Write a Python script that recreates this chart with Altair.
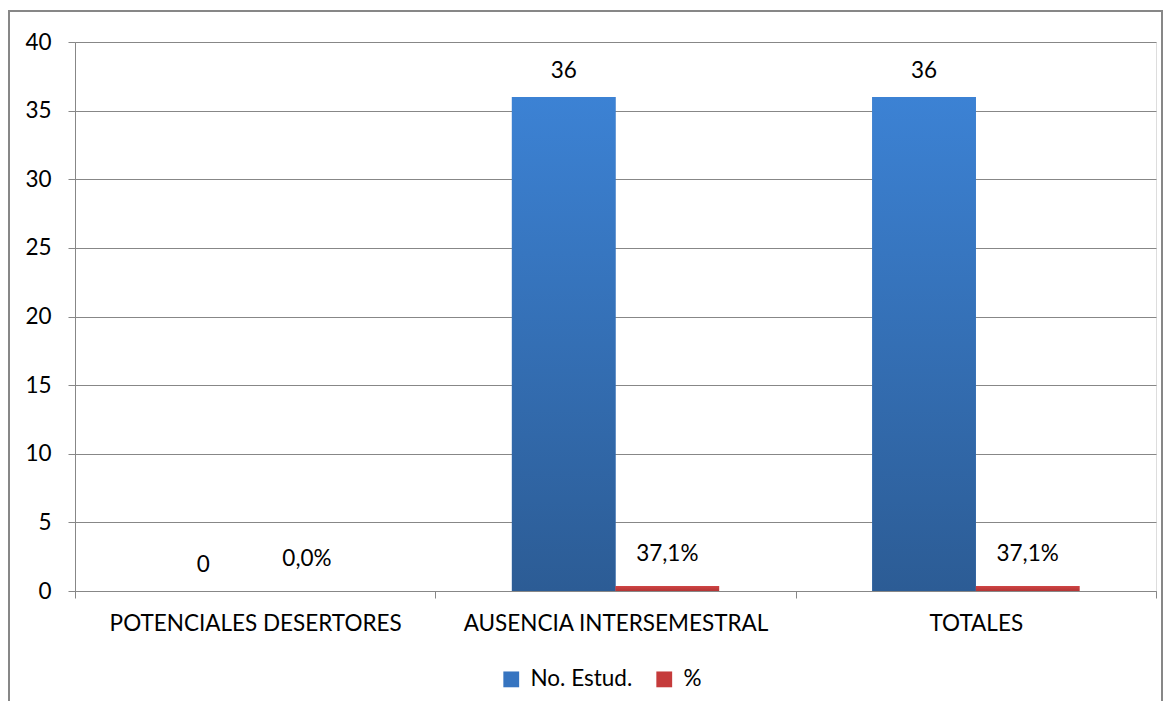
import altair as alt
import pandas as pd

categories = ["POTENCIALES DESERTORES", "AUSENCIA INTERSEMESTRAL", "TOTALES"]
series = ["No. Estud.", "%"]
estud = [0, 36, 36]
estud_labels = ["0", "36", "36"]
pct = [0.0, 37.1, 37.1]
pct_labels = ["0,0%", "37,1%", "37,1%"]

rows = []
for c, v, l in zip(categories, estud, estud_labels):
    rows.append({"category": c, "series": series[0], "value": v, "label": l})
for c, v, l in zip(categories, pct, pct_labels):
    rows.append({"category": c, "series": series[1], "value": v / 100, "label": l})
df = pd.DataFrame(rows)

FONT = "Lato"
FS = 22.5
GRAY = "#878787"
BLUE = "#3674c0"
RED = "#c53b3b"

base = alt.Chart(df).encode(
    x=alt.X(
        "category:N",
        sort=categories,
        scale=alt.Scale(paddingInner=0, paddingOuter=0),
        axis=alt.Axis(
            title=None, labelAngle=0, tickBand="extent", tickSize=7, labelLimit=0,
            labelPadding=14, labelFontSize=FS, labelFont=FONT, labelColor="#000000",
            domainColor=GRAY, tickColor=GRAY, grid=False,
        ),
    ),
    xOffset=alt.XOffset("series:N", sort=series,
                        scale=alt.Scale(paddingInner=0, paddingOuter=0.739)),
    y=alt.Y(
        "value:Q",
        scale=alt.Scale(domain=[0, 40], nice=False),
        axis=alt.Axis(
            title=None, values=list(range(0, 45, 5)), tickSize=7, labelPadding=17,
            labelFontSize=FS, labelFont=FONT, labelColor="#000000",
            domainColor=GRAY, tickColor=GRAY, gridColor=GRAY, grid=True,
        ),
    ),
)

bars = base.mark_bar().encode(
    color=alt.Color(
        "series:N",
        sort=series,
        scale=alt.Scale(domain=series, range=[BLUE, RED]),
        legend=alt.Legend(
            title=None, orient="none", direction="horizontal", legendX=425, legendY=626,
            symbolType="square", symbolSize=250, symbolStrokeWidth=0, symbolOpacity=1,
            labelFontSize=FS, labelFont=FONT, labelColor="#000000", columnPadding=20,
            labelOffset=8,
        ),
    )
)

blue_grad = base.transform_filter(alt.datum.series == series[0]).mark_bar(
    color=alt.Gradient(
        gradient="linear", x1=0, x2=0, y1=0, y2=1,
        stops=[alt.GradientStop(color="#3c82d4", offset=0),
               alt.GradientStop(color="#2c5c95", offset=1)],
    )
)

red_grad = base.transform_filter(alt.datum.series == series[1]).mark_bar(
    color=alt.Gradient(
        gradient="linear", x1=0, x2=0, y1=0, y2=1,
        stops=[alt.GradientStop(color="#d04444", offset=0),
               alt.GradientStop(color="#b33535", offset=1)],
    )
)

blue_text = base.transform_filter(alt.datum.series == series[0]).mark_text(
    baseline="bottom", dy=-14, fontSize=FS, font=FONT, color="#000000"
).encode(text="label:N")

red_text = base.transform_filter(alt.datum.series == series[1]).mark_text(
    baseline="bottom", dy=-20, fontSize=FS, font=FONT, color="#000000"
).encode(text="label:N")

frame = alt.Chart(pd.DataFrame({"f": [0]})).mark_rect(
    fill="transparent", stroke=GRAY, strokeWidth=2
).encode(x=alt.value(-66), x2=alt.value(1087), y=alt.value(-31), y2=alt.value(690))

chart = alt.layer(frame, bars, blue_grad, red_grad, blue_text, red_text).properties(
    width=1081, height=549,
    padding={"left": 67, "top": 34, "right": 8, "bottom": 110},
    autosize=alt.AutoSizeParams(type="none"),
).configure_view(stroke=None).configure(background="white")

chart.save("out.html", embed_options={"renderer": "svg", "actions": False})
